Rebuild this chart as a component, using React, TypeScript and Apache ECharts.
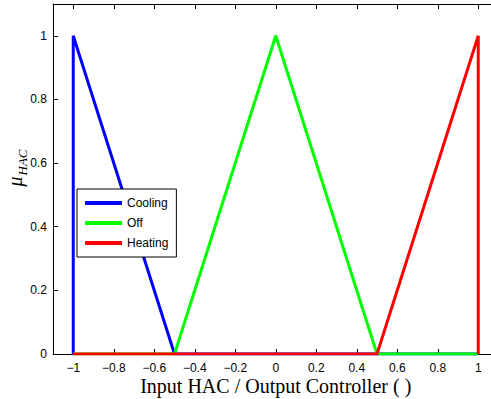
import React, { useEffect, useRef } from "react";
import * as echarts from "echarts";

const seriesNames = ["Cooling", "Off", "Heating"];
const seriesColors = ["#0000ff", "#00ff00", "#ff0000"];
const coolingPts: [number, number][] = [[-1, 0], [-1, 1], [-0.5, 0], [1, 0]];
const offPts: [number, number][] = [[-1, 0], [-0.5, 0], [0, 1], [0.5, 0], [1, 0]];
const heatingPts: [number, number][] = [[-1, 0], [0.5, 0], [1, 1], [1, 0]];
const xTicks = [-1, -0.8, -0.6, -0.4, -0.2, 0, 0.2, 0.4, 0.6, 0.8, 1];
const yTicks = [0, 0.2, 0.4, 0.6, 0.8, 1];

const fmt = (v: number) => String(Math.round(v * 10) / 10).replace("-", "\u2212");

export default function App() {
  const ref = useRef<HTMLDivElement>(null);
  useEffect(() => {
    document.body.style.margin = "0";
    const chart = echarts.init(ref.current!, null, { renderer: "svg" });
    const tickFont = { fontFamily: "Liberation Sans, Arial, sans-serif", fontSize: 12, color: "#000" };
    const axisLine = { show: true, onZero: false, lineStyle: { color: "#000", width: 1 } };
    const data = [coolingPts, offPts, heatingPts];
    chart.setOption({
      animation: false,
      backgroundColor: "#fff",
      grid: { left: 53, top: 4, right: -7.5, bottom: 45, containLabel: false, outerBoundsMode: "none" },
      xAxis: [
        {
          type: "value", min: -1.1, max: 1.1, position: "bottom",
          axisLine, splitLine: { show: false },
          axisTick: { show: true, inside: true, length: 5, customValues: xTicks, lineStyle: { color: "#000" } },
          axisLabel: { ...tickFont, margin: 8, customValues: xTicks, formatter: fmt },
          name: "Input HAC / Output Controller ( )",
          nameLocation: "middle", nameGap: 22, nameMoveOverlap: false,
          nameTextStyle: { fontFamily: "Liberation Serif, Times New Roman, serif", fontSize: 20, lineHeight: 20, color: "#000", verticalAlign: "top" },
        },
        {
          type: "value", min: -1.1, max: 1.1, position: "top",
          axisLine, splitLine: { show: false },
          axisTick: { show: true, inside: true, length: 5, customValues: xTicks, lineStyle: { color: "#000" } },
          axisLabel: { show: false },
        },
      ],
      yAxis: [
        {
          type: "value", min: 0, max: 1.1, position: "left",
          axisLine, splitLine: { show: false },
          axisTick: { show: true, inside: true, length: 5, customValues: yTicks, lineStyle: { color: "#000" } },
          axisLabel: { ...tickFont, margin: 6, customValues: yTicks, formatter: fmt },
          name: "{mu|\u03bc}{sub|HAC}",
          nameLocation: "middle", nameGap: 28, nameRotate: 90, nameMoveOverlap: false,
          nameTextStyle: {
            padding: [0, 0, 0, 22],
            rich: {
              mu: { fontFamily: "Liberation Serif, serif", fontStyle: "italic", fontSize: 20, color: "#000", verticalAlign: "bottom" },
              sub: { fontFamily: "Liberation Serif, serif", fontStyle: "italic", fontSize: 13, color: "#000", verticalAlign: "bottom", padding: [0, 0, -4, 1] },
            },
          },
        },
        {
          type: "value", min: 0, max: 1.1, position: "right",
          axisLine, splitLine: { show: false },
          axisTick: { show: true, inside: true, length: 5, customValues: yTicks },
          axisLabel: { show: false },
        },
      ],
      legend: {
        orient: "vertical", left: 77, top: 189,
        data: seriesNames,
        icon: "rect", itemWidth: 37, itemHeight: 4, itemGap: 8,
        padding: [8, 8, 8, 8],
        backgroundColor: "#fff", borderColor: "#000", borderWidth: 1,
        textStyle: { fontFamily: "Liberation Sans, Arial, sans-serif", fontSize: 12, color: "#000" },
      },
      series: seriesNames.map((n, i) => ({
        name: n, type: "line", data: data[i], showSymbol: false, symbol: "none",
        lineStyle: { color: seriesColors[i], width: 3 }, itemStyle: { color: seriesColors[i] },
        z: 2 + i,
      })),
    });
    return () => chart.dispose();
  }, []);
  return <div ref={ref} style={{ width: 491, height: 399 }} />;
}
